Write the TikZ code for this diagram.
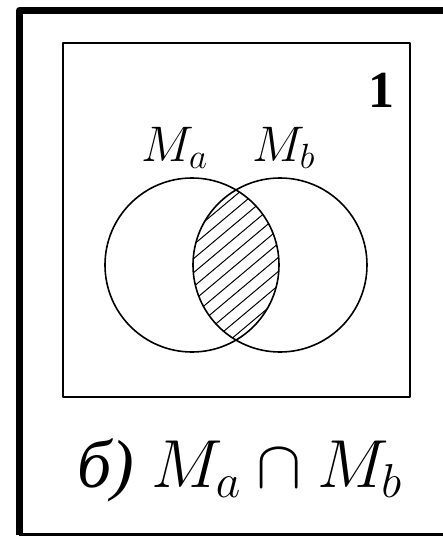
\RequirePackage{fix-cm}
\documentclass[tikz,border=0pt]{standalone}
\usepackage{fontspec}
\setmainfont{Liberation Serif}
\begin{document}
\begin{tikzpicture}[x=0.5pt, y=0.5pt, line join=round,
    setlabel/.style={anchor=base, font=\fontsize{25}{30}\selectfont},
    setline/.style={line width=0.8pt},
    hatchline/.style={line width=0.5pt}]
				% 0. 画布范围
				\useasboundingbox (0,0) rectangle (443,538);
				
				% 1. 外框 (右侧开口)
				\draw[line width=3.5pt] (443,527.5) -- (19.5,527.5) -- (19.5,3.5);
				\draw[line width=1.5pt] (19.5,3.5) -- (443,3.5);
				
				% 2. 全集方框
				\draw[line width=1pt] (63,141) rectangle (410,495);
				\node[anchor=base, font=\fontsize{26}{30}\selectfont\bfseries] (one) at (382,431) {1};
				
				% 3. 交集阴影 (两圆裁切)
				\coordinate (ca) at (192,273);
				\coordinate (cb) at (280,273);
				\begin{scope}
					\clip (ca) circle (87);
					\clip (cb) circle (87);
					\foreach \k in {-12,...,12}
						\draw[hatchline] (136,{189+\k*14}) -- (336,{357+\k*14});
				\end{scope}
				
				% 4. 两个集合
				\draw[setline] (ca) circle (87);
				\draw[setline] (cb) circle (87);
				\node[setlabel] (ma) at (175,377) {$M_a$};
				\node[setlabel] (mb) at (284,377) {$M_b$};
				
				% 5. 图注
				\node[anchor=base, font=\fontsize{34}{40}\selectfont] (cap) at (240,51) {\textit{б)} $M_a\cap M_b$};
			\end{tikzpicture}
\end{document}
